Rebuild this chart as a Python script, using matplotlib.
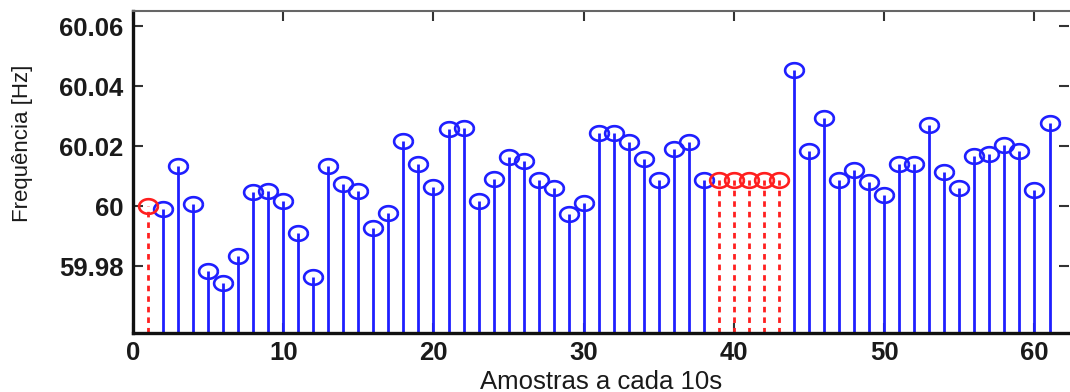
import numpy as np
import matplotlib
matplotlib.use("Agg")
import matplotlib.pyplot as plt
from matplotlib.path import Path

plt.rcParams['font.family'] = ['Liberation Sans', 'DejaVu Sans']

# amostras medidas (azul)
amostras = list(range(2, 39)) + list(range(44, 62))
freq = [59.9990, 60.0133, 60.0007, 59.9783, 59.9743, 59.9833, 60.0047, 60.0050,
        60.0017, 59.9910, 59.9763, 60.0133, 60.0073, 60.0050, 59.9927, 59.9977,
        60.0217, 60.0140, 60.0063, 60.0257, 60.0260, 60.0017, 60.0090, 60.0163,
        60.0150, 60.0087, 60.0060, 59.9973, 60.0010, 60.0243, 60.0243, 60.0213,
        60.0157, 60.0087, 60.0190, 60.0213, 60.0087,
        60.0453, 60.0183, 60.0293, 60.0087, 60.0120, 60.0080, 60.0037, 60.0140,
        60.0140, 60.0270, 60.0113, 60.0060, 60.0167, 60.0173, 60.0203, 60.0183,
        60.0053, 60.0277]

# amostras preenchidas (vermelho)
amostras_falha = [1, 39, 40, 41, 42, 43]
freq_falha = [60.0000, 60.0087, 60.0087, 60.0087, 60.0087, 60.0087]

yticks = [59.98, 60.0, 60.02, 60.04, 60.06]
ytick_labels = ['59.98', '60', '60.02', '60.04', '60.06']
xticks = [0, 10, 20, 30, 40, 50, 60]

ymin, ymax = 59.9577, 60.065

# circulo achatado
t = np.linspace(0, 2 * np.pi, 60)
oval = Path(np.column_stack([np.cos(t), 0.78 * np.sin(t)]))

fig = plt.figure(figsize=(10.7, 3.92), dpi=100)
ax = fig.add_axes([0.1243, 0.1505, 0.8748, 0.8214])

azul = (0.12, 0.12, 1.0)
verm = (1.0, 0.12, 0.12)

ax.vlines(amostras, ymin, freq, color=azul, lw=2.0)
ax.plot(amostras, freq, ls='none', marker=oval, ms=13.5, mfc='none',
        mec=azul, mew=1.9)

ax.vlines(amostras_falha, ymin, freq_falha, color=verm, lw=2.0,
          linestyles=(0, (2.0, 1.8)))
ax.plot(amostras_falha, freq_falha, ls='none', marker=oval, ms=13.5, mfc='none',
        mec=verm, mew=1.9)

ax.set_xlim(0, 62.3)
ax.set_ylim(ymin, ymax)
ax.set_xticks(xticks)
ax.set_yticks(yticks)
ax.set_yticklabels(ytick_labels)

ax.tick_params(direction='in', length=7, width=1.5, colors='#333333',
               labelcolor='#1a1a1a', labelsize=18.5, top=True, right=True)
ax.tick_params(axis='x', pad=6)
ax.tick_params(axis='y', pad=7)
for lab in ax.get_xticklabels() + ax.get_yticklabels():
    lab.set_fontweight('bold')

for s in ['left', 'bottom']:
    ax.spines[s].set_linewidth(2.4)
    ax.spines[s].set_color('#111111')
ax.spines['top'].set_linewidth(1.5)
ax.spines['top'].set_color('#666666')
ax.spines['right'].set_visible(False)

ax.set_xlabel('Amostras a cada 10s', fontsize=18.5, color='#1a1a1a', labelpad=3)
ax.set_ylabel('Frequência [Hz]', fontsize=16, color='#1a1a1a')
ax.yaxis.set_label_coords(-0.107, 0.59)

fig.savefig('out.png', dpi=100)
